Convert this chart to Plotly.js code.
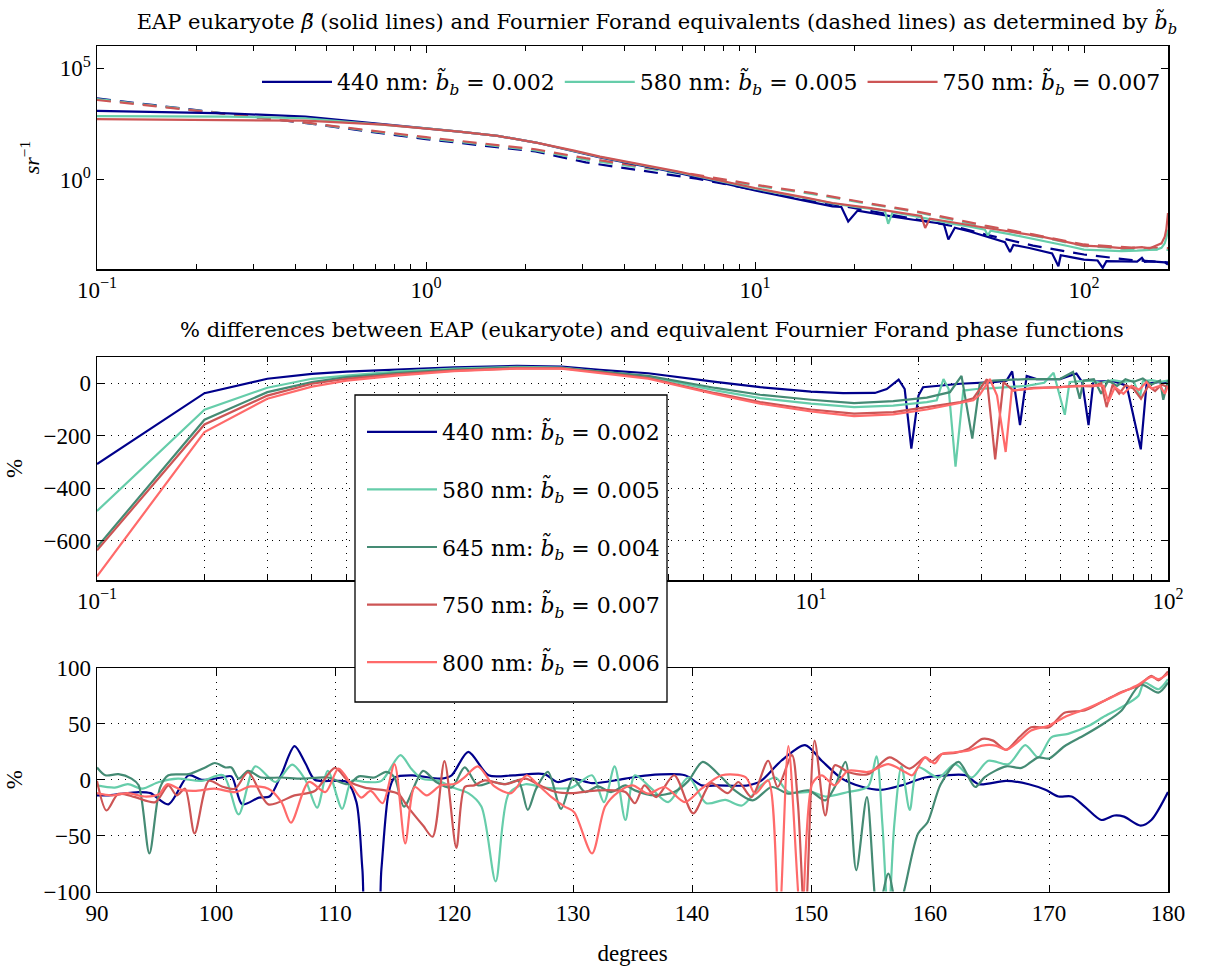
<!DOCTYPE html>
<html>
<head>
<meta charset="utf-8">
<script src="https://cdn.plot.ly/plotly-3.0.1.min.js"></script>
<style>html,body{margin:0;padding:0;background:#fff;}</style>
</head>
<body>
<div id="chart" style="width:1206px;height:970px;"></div>
<script>
// ---------- series labels & colours ----------
const labels = {
  w440: '440 nm: <i>b̃</i><sub><i>b</i></sub> = 0.002',
  w580: '580 nm: <i>b̃</i><sub><i>b</i></sub> = 0.005',
  w645: '645 nm: <i>b̃</i><sub><i>b</i></sub> = 0.004',
  w750: '750 nm: <i>b̃</i><sub><i>b</i></sub> = 0.007',
  w800: '800 nm: <i>b̃</i><sub><i>b</i></sub> = 0.006'
};
const colors = {w440:'#00008B', w580:'#66CDAA', w645:'#458B74', w750:'#CD5555', w800:'#FF6A6A'};

// ---------- top panel: EAP beta (sr^-1) vs angle ----------
const topX440 = [0.1,0.25,0.43,0.74,1,1.26,1.65,2.16,2.82,3.38,5.8,10,14,17.2,18.3,19.2,20.5,22.5,26,30.3,33,35.7,37.5,38.7,40.5,45,50.7,55,57.5,59.6,61,68.2,75,80,83.6,85,92,100,110,114,117,125,135,145,150,153,160,170,176,180];
const topEAP440 = [1.23e3,9.55e2,6.76e2,3.24e2,2.04e2,1.45e2,9.33e1,4.68e1,1.95e1,1.0e1,2.09,3.31e-1,1.20e-1,6.46e-2,6.03e-2,1.35e-2,4.17e-2,3.24e-2,2.29e-2,1.62e-2,1.38e-2,1.15e-2,1.05e-2,2.09e-3,7.08e-3,4.79e-3,2.88e-3,2.00e-3,1.58e-3,5.75e-4,1.20e-3,8.71e-4,6.31e-4,5.01e-4,1.32e-4,4.17e-4,3.31e-4,2.63e-4,2.40e-4,1.12e-4,2.24e-4,2.19e-4,2.19e-4,2.14e-4,3.16e-4,2.09e-4,2.19e-4,2.09e-4,2.00e-4,1.58e-4];

const topX580 = [0.1,0.25,0.43,0.74,1,1.26,1.65,2.16,2.82,3.38,5.8,10,14,17.2,20,22.5,24.8,25.4,26.2,30.3,35.7,40,45,50,51,52,60,68.2,80,90,100,115,130,145,158,167,172,176,178,180];
const topEAP580 = [7.24e2,6.76e2,5.75e2,3.09e2,2.04e2,1.45e2,9.33e1,4.68e1,2.00e1,1.05e1,2.24,3.98e-1,1.58e-1,8.71e-2,6.31e-2,5.01e-2,4.17e-2,1.07e-2,3.55e-2,2.40e-2,1.45e-2,1.05e-2,7.94e-3,5.75e-3,3.16e-3,5.25e-3,3.55e-3,2.45e-3,1.51e-3,1.05e-3,7.41e-4,7.08e-4,6.31e-4,6.61e-4,6.92e-4,7.59e-4,8.91e-4,1.41e-3,2.51e-3,5.75e-3];

const topX750 = [0.1,0.25,0.43,0.74,1,1.26,1.65,2.16,2.82,3.38,5.8,10,14,17.2,22.5,30.3,32,32.9,34,35.7,40,45,50.7,55,60,68.2,75,85,99.7,115,130.6,140,150,158,167,172,176,178,180];
const topEAP750 = [5.25e2,4.57e2,4.47e2,2.95e2,2.04e2,1.45e2,9.33e1,4.68e1,2.04e1,1.10e1,2.40,4.27e-1,1.66e-1,9.12e-2,5.37e-2,2.69e-2,2.40e-2,6.92e-3,1.82e-2,1.62e-2,1.26e-2,9.55e-3,6.92e-3,5.75e-3,4.79e-3,3.47e-3,2.75e-3,1.82e-3,1.12e-3,1.00e-3,8.71e-4,8.91e-4,9.55e-4,8.32e-4,1.12e-3,1.41e-3,2.82e-3,6.31e-3,3.24e-2];

// Fournier-Forand equivalents (dashed)
const topXFF = [0.1,0.194,0.433,1,2.15,3.06,6.65,10,15,22.5,30.3,40,50,70,100,140,180];
const topFF440 = [4.47e3,1.45e3,3.47e2,6.61e1,1.86e1,6.03,1.12,3.55e-1,1.12e-1,3.98e-2,1.74e-2,8.32e-3,3.55e-3,1.12e-3,4.47e-4,2.51e-4,2.00e-4];
const topFF580 = [4.17e3,1.38e3,3.55e2,7.41e1,2.09e1,7.94,1.51,5.50e-1,2.29e-1,7.94e-2,3.80e-2,1.58e-2,7.94e-3,3.16e-3,1.07e-3,7.59e-4,7.24e-4];
const topFF750 = [3.80e3,1.32e3,3.63e2,8.13e1,2.34e1,9.33,1.66,6.03e-1,2.51e-1,8.51e-2,4.07e-2,1.78e-2,8.91e-3,3.55e-3,1.26e-3,9.12e-4,8.71e-4];

// ---------- middle panel: % difference, 0.1 - 100 degrees ----------
const midX440 = [0.1,0.2,0.3,0.4,0.5,0.7,1,1.5,2,2.56,3.5,5.4,7.2,10,12.3,15.1,16.3,17.6,18.3,19.1,20,20.6,22,26.2,32.4,35.3,36.6,38.5,40.2,42.8,49.8,55.4,57.5,59.9,61.8,70.3,76.6,83.9,87.1,95,100];
const midY440 = [-308,-38,17,36,44,53,61,66,63,51,38,5,-15,-32,-38,-37,-22,14,-22,-249,-47,-15,-11,-2,4,10,45,-160,28,16,16,37,4,-160,6,8,-9,-252,-2,5,0];

const midX580 = [0.1,0.2,0.3,0.4,0.5,0.7,1,1.5,2,2.56,3.5,5.4,7.2,10,13.2,17,21.1,22.5,23.5,24.3,25.4,26.7,29.1,32.4,40.2,45,47.8,51.4,53,60,65,70,75,80,83.5,85,90,95,100];
const midY580 = [-487,-101,-17,17,29,45,56,62,60,45,25,-27,-57,-78,-91,-85,-72,-65,16,-22,-318,-28,-22,-19,-10,2,40,-120,5,10,2,12,5,10,-52,8,12,5,10];

const midX645 = [0.1,0.2,0.3,0.4,0.5,0.7,1,1.5,2,2.56,3.5,5.4,7.2,10,13.2,17,21.1,24.5,26.4,28.3,29.7,32.4,40.2,49.8,54.2,56.6,58,62,65,68,72,76,80,85,90,95,97,100];
const midY645 = [-625,-139,-34,4,23,40,52,60,58,45,28,-18,-44,-63,-76,-68,-55,-34,28,-211,-2,10,16,16,43,-59,10,15,-40,10,-10,15,5,18,-5,10,-63,12];

const midX750 = [0.1,0.2,0.3,0.4,0.5,0.7,1,1.5,2,2.56,3.5,5.4,7.2,10,13.2,17,21.1,26.2,28.5,31.1,32.8,34.6,36.9,42,49.8,55,61.8,65,67.3,70,73,76,80,84,88,92,96,100];
const midY750 = [-637,-157,-47,-2,17,35,48,57,57,42,20,-38,-72,-100,-116,-110,-91,-72,-57,16,-290,4,-28,-18,-15,-10,-12,0,-91,-5,-40,-8,-20,-59,-10,-30,-5,-15];

const midX800 = [0.1,0.2,0.3,0.4,0.5,0.7,1,1.5,2,2.56,3.5,5.4,7.2,10,13.2,17,21.1,28.5,29.7,31.7,33.2,35.1,36.5,42,49.8,55,62,66,68,71,75,79,83,87,90,95,98,100];
const midY800 = [-736,-186,-59,-13,10,30,46,56,56,40,17,-42,-78,-107,-125,-119,-100,-65,-44,16,-47,-262,-28,-20,-15,-12,-8,-10,-72,-15,-40,-10,-25,5,-20,-10,-40,-10];

// ---------- bottom panel: % difference, 90 - 180 degrees ----------
const botX440 = [90,91,93.5,94.5,96,97.7,98.8,100.5,101.3,102.2,103.6,104.5,105.5,106.6,107.5,108.3,110,111,111.8,112.3,112.7,113.5,113.9,114.5,115,116.5,118.9,119.8,121.2,122.9,125,127.6,128.7,129.9,131.6,132.7,134.4,136.3,139.4,140.8,142.2,144.7,145.8,147.5,149.5,150.9,152.6,154.2,155.9,157.6,159.6,161.3,163,164.1,166.4,168.3,169.7,170.8,171.9,173,174.4,175.5,176.3,177.7,178.6,180];
const botY440 = [-14,-14,-11,-12,-22,4,0,2,3,-22,-16,-15,5,30,15,0,-1,-2,-20,-80,-130,-130,-80,-12,2,4,1,4,25,4,4,5,-2,1,-3,-2,1,4,4,-5,-5,-5,-1,17,31,17,1,-6,-9,-5,2,4,4,-4,-1,-4,-9,-15,-15,-24,-36,-32,-33,-41,-36,-11];

const botX580 = [90,91.5,92.6,93.8,95.2,96.8,98.8,100.6,101.9,103.3,105,106.4,107.5,108.5,109.4,110.6,111.4,112.5,113.9,115.5,116.4,117.3,118.7,119.9,121.2,122.3,123.5,124.6,126,127.6,129.9,131.6,132.6,133.5,134.4,135.2,136.6,138,139.7,141.2,142.8,144.2,145.8,147,148.1,150.1,151.2,153.1,154.8,155.5,156,156.5,157,157.6,158.3,159,160.7,162.1,163.5,164.9,166.6,168,169.1,170.2,171.6,173.3,174.7,176.1,177.5,178,179.2,180];
const botY580 = [-5,-7,-4,-8,-2,1,-1,4,-31,12,-2,13.5,0,-25,8,-26,-1,-2,-1,22,10,1,-1,-7,-12,-24,-91,-12.5,-4,-7,-7,4,-20,12,-36,4,-8,-20,2,-21,-18,-23,-5,2,-11,-11,-15,-11,-6,21,-40,-125,-40,12,-27,11,2,14,2,17,14,31,20,38,41,48,57,65,75,87,81,90];

const botX645 = [90,90.7,91.8,92.9,93.5,94.4,95.3,96,97.7,99.1,99.9,100.8,101.3,101.9,102.7,103.8,105.5,107.2,109.4,111.1,112,113.3,114.3,115,115.8,117.4,118.5,119.8,120.9,122,123.2,124.3,125.4,126.2,126.9,127.9,129,130,131,132.1,133.2,134.4,135.2,136.9,138.5,139.7,140.9,142.5,143.6,145.1,146.7,148.1,149.8,151.2,152,152.9,153.8,154.7,155.6,156.5,157.3,157.9,159,159.8,160.9,162.4,163.8,164.6,166.4,167.7,169.1,170,171.3,173,174.7,176.1,177.7,179.2,180];
const botY645 = [11,4,5,1,-5,-66,-7,4,5,11,15,11,11,1,8,2,2,1,2,-4,3,2,7,2,-24,8,-2,-7,11,-5,-2,-4,-1,-27,-8,7,-26,1,-11,-6,-11,-5,-9.5,-14,-11,-1,16,2,-9.5,-18.5,-6.5,-12.5,-9.5,-18.5,-6.5,16,-81,-15.5,-120,-84,-120,-96,-48,-38,-4,16,-6.5,2.4,12,10.6,20,19,30,40,51,62,85,78,87];

const botX750 = [90,90.8,91.8,93.2,94.9,96,96.7,97.4,98.2,99.4,100.5,101.6,102.7,104.4,106.6,108.3,110,111.1,112.5,114.2,115.3,116.1,117.4,118.2,119.2,120.2,120.9,121.7,122.6,124.3,126,127.2,128.6,129.9,132.1,134.4,135.2,136,137,138.5,140.1,141.6,143,143.9,145,146.4,147.2,148.4,148.9,149.5,150.3,151.2,152,153.1,154.8,156.6,158.3,159.6,160.1,161,162.1,163.2,164.4,165.3,166.4,167.5,168.5,170,171.3,173,174.7,176.1,177.5,178.6,179.2,180];
const botY750 = [-1,-27.5,-12.6,-15.6,-20,-5,-14,-8,-48,-1,-6,-8,6.7,-22,-14,-10,10.6,-1,-7,-9.5,-12.5,-24,-41,-51,16.6,-61,-6.5,-5,-0.6,-4,1,-5,-11,-12,-9.5,-11,-21,-5,-15.5,4,-30,-3,-12,-2,-15.5,17,-6.5,22,-21,-130,35,-32,13,7,5,20,10,20,16,23,24,27.6,36.6,35,26.8,38,47,47,60,62,71,78.6,84,93,89,97];

const botX800 = [90,91.2,92.6,94,95.2,95.9,97.1,98.2,99.9,101.6,102.9,104.4,105.5,106.3,107.8,109.2,110.3,111.4,112.2,113,114,115,115.9,116.7,117.7,118.9,120.1,120.9,122,123.4,124.8,126.1,127,128.2,129.3,130.1,131.6,132.7,133.8,135,136.3,137.7,139.4,140.8,142.5,144.5,145.3,146.4,147.3,148.1,149.2,150.1,150.9,152,153.1,154.8,156.5,157.9,158.5,159.6,160.4,161,162.1,163.2,164.4,165.5,166.4,167.5,168.5,170,171.3,173,174.7,176.1,177.5,178.6,179.2,180];
const botY800 = [-12,-14,-12,-15,-13,-4,-9,-10,-8,-11,-6,-8,-20,-38.5,-2,-11,10,-5,-16,-10,-21,14,-57,-6.5,-14,-5,-3.6,2.4,12,-6,-12,4,-4,-15.5,-24,-29,-66,-24,-11,-5,-12.5,-6.5,-20,-8,4,2.4,-12.5,-0.6,-130,30,-130,-3.6,4,-5,8,7,14,7,4,20,14.6,23,24.6,26,30.6,30.6,26.8,35,44,48.5,56,63,71,78,85,92,90,95];

// ---------- tick labels ----------
const logTickVals = [0.1, 1, 10, 100];
const logTickText = ['10<sup>−1</sup>', '10<sup>0</sup>', '10<sup>1</sup>', '10<sup>2</sup>'];
const midTickVals = [0.1, 10, 100];            // 10^0 label is hidden behind the legend in the original
const midTickText = ['10<sup>−1</sup>', '10<sup>1</sup>', '10<sup>2</sup>'];
const logMinorVals = [0.2,0.3,0.4,0.5,0.6,0.7,0.8,0.9,1,2,3,4,5,6,7,8,9,20,30,40,50,60,70,80,90];
const logMinorValsTop = [0.2,0.3,0.4,0.5,0.6,0.7,0.8,0.9,2,3,4,5,6,7,8,9,20,30,40,50,60,70,80,90];
const betaTickVals = [1, 1e5];
const betaTickText = ['10<sup>0</sup>', '10<sup>5</sup>'];

// ---------- build traces ----------
const TFONT = 'Liberation Serif';   // tick labels
const SFONT = 'DejaVu Serif';       // titles & legend text
const LW = 2.2;
const traces = [];

function solidTop(x, y, key) {
  traces.push({x, y, type:'scatter', mode:'lines', xaxis:'x', yaxis:'y',
    line:{color:colors[key], width:LW}, name:labels[key], legend:'legend', showlegend:true});
}
function dashTop(x, y, key) {
  traces.push({x, y, type:'scatter', mode:'lines', xaxis:'x', yaxis:'y',
    line:{color:colors[key], width:LW, dash:'14px,9px'}, showlegend:false, hoverinfo:'skip'});
}
dashTop(topXFF, topFF440, 'w440');
dashTop(topXFF, topFF580, 'w580');
dashTop(topXFF, topFF750, 'w750');
solidTop(topX440, topEAP440, 'w440');
solidTop(topX580, topEAP580, 'w580');
solidTop(topX750, topEAP750, 'w750');

const midSets = [['w440',midX440,midY440],['w580',midX580,midY580],['w645',midX645,midY645],['w750',midX750,midY750],['w800',midX800,midY800]];
midSets.forEach(([k,x,y], i) => {
  traces.push({x, y, type:'scatter', mode:'lines', xaxis:'x2', yaxis:'y2',
    line:{color:colors[k], width:LW}, name:labels[k], legend:'legend2', legendgroup:'g'+i, showlegend:true});
});
const botSets = [['w440',botX440,botY440],['w580',botX580,botY580],['w645',botX645,botY645],['w750',botX750,botY750],['w800',botX800,botY800]];
botSets.forEach(([k,x,y]) => {
  traces.push({x, y, type:'scatter', mode:'lines', xaxis:'x3', yaxis:'y3',
    line:{color:colors[k], width:LW, shape:'spline', smoothing:0.8}, showlegend:false});
});

// ---------- layout ----------
const W = 1206, H = 970;
const xDom = [97/W, 1168/W];
const py = (top, bot) => [1 - bot/H, 1 - top/H];
const axBase = {showline:true, linecolor:'#000', linewidth:1.5, mirror:'ticks', ticks:'inside',
  ticklen:7, tickwidth:1, tickcolor:'#000', zeroline:false, tickfont:{family:TFONT, size:23, color:'#000'}};
const dotGrid = {showgrid:true, gridcolor:'#000', gridwidth:1, griddash:'1px,6px'};

const layout = {
  width: W, height: H,
  margin:{l:0, r:0, t:0, b:0},
  paper_bgcolor:'#fff', plot_bgcolor:'#fff',
  font:{family:TFONT, size:22, color:'#000'},
  title:{text:'EAP eukaryote <i>β̃</i> (solid lines) and Fournier Forand equivalents (dashed lines) as determined by <i>b̃</i><sub><i>b</i></sub>',
    x:657/W, xanchor:'center', y:1-22/H, yanchor:'middle', font:{family:SFONT, size:21, color:'#000'}},
  xaxis: Object.assign({}, axBase, {domain:xDom, anchor:'y', type:'log', range:[-1, 2.2553],
    tickmode:'array', tickvals:logTickVals, ticktext:logTickText, showgrid:false,
    minor:{tickmode:'array', tickvals:logMinorValsTop, ticks:'inside', ticklen:5, tickcolor:'#000'}}),
  yaxis: Object.assign({}, axBase, {domain:py(46,269), anchor:'x', type:'log', range:[-4, 6],
    tickmode:'array', tickvals:betaTickVals, ticktext:betaTickText, showgrid:false,
    title:{text:'<i>sr</i><sup>−1</sup>', standoff:14, font:{family:TFONT, size:22}}}),
  xaxis2: Object.assign({}, axBase, dotGrid, {domain:xDom, anchor:'y2', type:'log', range:[-1, 2],
    tickmode:'array', tickvals:midTickVals, ticktext:midTickText,
    minor:{tickmode:'array', tickvals:logMinorVals, ticks:'inside', ticklen:5, tickcolor:'#000',
      showgrid:true, gridcolor:'#000', gridwidth:1, griddash:'1px,6px'}}),
  yaxis2: Object.assign({}, axBase, dotGrid, {domain:py(357,580), anchor:'x2', range:[-750, 100],
    tickmode:'array', tickvals:[-600,-400,-200,0],
    title:{text:'%', standoff:14, font:{family:TFONT, size:23}}}),
  xaxis3: Object.assign({}, axBase, dotGrid, {domain:xDom, anchor:'y3', range:[90, 180], dtick:10, tick0:90,
    title:{text:'degrees', standoff:20, font:{family:TFONT, size:23}}}),
  yaxis3: Object.assign({}, axBase, dotGrid, {domain:py(668,891.5), anchor:'x3', range:[-100, 100], dtick:50,
    title:{text:'%', standoff:14, font:{family:TFONT, size:23}}}),
  annotations:[{text:'% differences between EAP (eukaryote) and equivalent Fournier Forand phase functions',
    xref:'paper', yref:'paper', x:652/W, y:1-330/H, xanchor:'center', yanchor:'middle', showarrow:false,
    font:{family:SFONT, size:21, color:'#000'}}],
  shapes:[{type:'rect', xref:'paper', yref:'paper', x0:355/W, x1:667/W, y0:1-702/H, y1:1-395/H,
    fillcolor:'#fff', line:{color:'#000', width:1.3}, layer:'above'}],
  legend:{orientation:'h', x:1166/W, xanchor:'right', y:1-82/H, yanchor:'middle',
    bgcolor:'rgba(0,0,0,0)', borderwidth:0, font:{family:SFONT, size:22, color:'#000'}, itemwidth:70},
  legend2:{orientation:'v', x:362/W, xanchor:'left', y:1-411/H, yanchor:'top',
    bgcolor:'rgba(0,0,0,0)', borderwidth:0, font:{family:SFONT, size:22, color:'#000'},
    itemwidth:70, tracegroupgap:26, traceorder:'grouped'},
  showlegend:true
};

Plotly.newPlot('chart', traces, layout, {displayModeBar:false, staticPlot:true});
</script>
</body>
</html>
